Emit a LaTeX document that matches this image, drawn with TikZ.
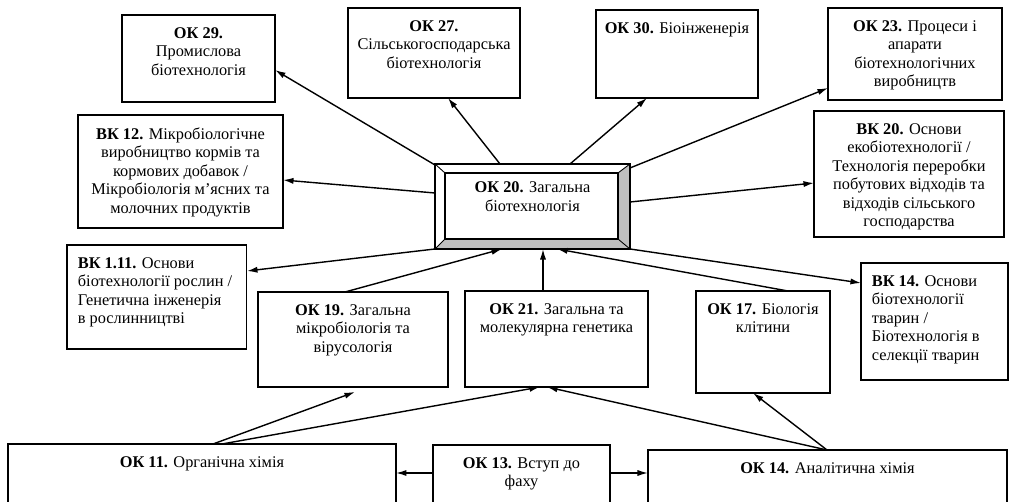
\documentclass[tikz,border=0pt]{standalone}
\usepackage{fontspec}
\setmainfont{Liberation Serif}
\usetikzlibrary{positioning,calc,arrows.meta}

\begin{document}
\begin{tikzpicture}[x = 0.02cm, y = -0.02cm]
\tikzstyle{BoxStyle} = [draw, line width = 1.4pt, inner sep = 0pt, outer sep = 0pt, anchor = north west]
\tikzstyle{ThinBoxStyle} = [draw, line width = 0.6pt, inner sep = 0pt, outer sep = 0pt, anchor = north west]
\tikzstyle{TextStyle} = [align = center, inner sep = 0pt, font = \fontsize{9.3}{10.5}\selectfont]
\tikzstyle{LeftTextStyle} = [align = left, inner sep = 0pt, font = \fontsize{9.3}{10.5}\selectfont]
\tikzstyle{EdgeStyle} = [line width = 0.8pt, -{Latex[length = 6pt, width = 3.5pt]}]
\tikzstyle{BevelStyle} = [fill = black!25]
\useasboundingbox (0,0) rectangle (1010,502);
\clip (0,0) rectangle (1010,502);
% boxes
\node[BoxStyle, minimum width = 3.06cm, minimum height = 1.74cm] (ok29) at (122,15) {};
\node[BoxStyle, minimum width = 3.44cm, minimum height = 1.80cm] (ok27) at (348,8) {};
\node[BoxStyle, minimum width = 3.24cm, minimum height = 1.76cm] (ok30) at (596,10) {};
\node[BoxStyle, minimum width = 3.48cm, minimum height = 1.84cm] (ok23) at (828,8) {};
\node[BoxStyle, minimum width = 4.10cm, minimum height = 2.26cm] (bk12) at (78,115) {};
\node[BoxStyle, minimum width = 3.80cm, minimum height = 2.52cm] (bk20) at (814,111) {};
\node[ThinBoxStyle, minimum width = 3.60cm, minimum height = 2.08cm] (bk111) at (67,245) {};
\node[BoxStyle, minimum width = 3.80cm, minimum height = 1.90cm] (ok19) at (258,292) {};
\node[BoxStyle, minimum width = 3.66cm, minimum height = 1.92cm] (ok21) at (465,291) {};
\node[BoxStyle, minimum width = 2.68cm, minimum height = 2.04cm] (ok17) at (696,291) {};
\node[ThinBoxStyle, minimum width = 2.94cm, minimum height = 2.34cm] (bk14) at (861,263) {};
\node[BoxStyle, minimum width = 7.76cm, minimum height = 1.40cm] (ok11) at (8,444) {};
\node[BoxStyle, minimum width = 3.54cm, minimum height = 1.40cm] (ok13) at (433,445) {};
\node[BoxStyle, minimum width = 7.18cm, minimum height = 1.40cm] (ok14) at (648,450) {};
% bevelled box
\node[BoxStyle, draw = none, minimum width = 3.90cm, minimum height = 1.70cm] (ok20) at (435,164) {};
\coordinate (in1) at ($(ok20.north west)+(10,9)$);
\coordinate (in2) at ($(ok20.north east)+(-12,9)$);
\coordinate (in3) at ($(ok20.south east)+(-12,-10)$);
\coordinate (in4) at ($(ok20.south west)+(10,-10)$);
\fill[BevelStyle] (ok20.north east) -- (ok20.south east) -- (ok20.south west) -- (in4) -- (in3) -- (in2) -- cycle;
\draw[line width = 0.8pt] (ok20.north west) rectangle (ok20.south east);
\draw[line width = 0.9pt] (in1) rectangle (in3);
\draw[line width = 0.5pt] (ok20.north west) -- (in1) (ok20.north east) -- (in2) (ok20.south east) -- (in3) (ok20.south west) -- (in4);
% texts
\node[TextStyle, below = 7pt of ok29.north] (t29) {\textbf{ОК 29.}\\ Промислова\\ біотехнологія};
\node[TextStyle, below = 7pt of ok27.north] (t27) {\textbf{ОК 27.}\\ Сільськогосподарська\\ біотехнологія};
\node[TextStyle, below = 7pt of ok30.north] (t30) {\textbf{ОК 30.} Біоінженерія};
\node[TextStyle, below = 7pt of ok23.north] (t23) {\textbf{ОК 23.} Процеси і\\ апарати\\ біотехнологічних\\ виробництв};
\node[TextStyle, below = 7pt of bk12.north] (t12) {\textbf{ВК 12.} Мікробіологічне\\ виробництво кормів та\\ кормових добавок /\\ Мікробіологія м’ясних та\\ молочних продуктів};
\node[TextStyle, below = 7pt of bk20.north] (t20b) {\textbf{ВК 20.} Основи\\ екобіотехнології /\\ Технологія переробки\\ побутових відходів та\\ відходів сільського\\ господарства};
\node[TextStyle, below = 10pt of ok20.north] (t20) {\textbf{ОК 20.} Загальна\\ біотехнологія};
\node[LeftTextStyle, below right = 7pt and 6pt of bk111.north west] (t111) {\textbf{ВК 1.11.} Основи\\ біотехнології рослин /\\ Генетична інженерія\\ в рослинництві};
\node[TextStyle, below = 7pt of ok19.north] (t19) {\textbf{ОК 19.} Загальна\\ мікробіологія та\\ вірусологія};
\node[TextStyle, below = 7pt of ok21.north] (t21) {\textbf{ОК 21.} Загальна та\\ молекулярна генетика};
\node[TextStyle, below = 7pt of ok17.north] (t17) {\textbf{ОК 17.} Біологія\\ клітини};
\node[LeftTextStyle, below right = 7pt and 6pt of bk14.north west] (t14b) {\textbf{ВК 14.} Основи\\ біотехнології\\ тварин /\\ Біотехнологія в\\ селекції тварин};
\node[TextStyle, below = 7pt of ok11.north] (t11) {\textbf{ОК 11.} Органічна хімія};
\node[TextStyle, below = 7pt of ok13.north] (t13) {\textbf{ОК 13.} Вступ до\\ фаху};
\node[TextStyle, below = 7pt of ok14.north] (t14) {\textbf{ОК 14.} Аналітична хімія};
% arrows
\draw[EdgeStyle] ($(ok20.north west)+(0,1)$) -- ($(ok29.north east)+(0,55)$);
\draw[EdgeStyle] ($(ok20.north west)+(65,0)$) -- ($(ok27.south west)+(100,0)$);
\draw[EdgeStyle] ($(ok20.north west)+(135,0)$) -- ($(ok30.south west)+(51,0)$);
\draw[EdgeStyle] ($(ok20.north east)+(0,4)$) -- ($(ok23.north west)+(0,80)$);
\draw[EdgeStyle] ($(ok20.north east)+(0,38)$) -- ($(bk20.north west)+(0,72)$);
\draw[EdgeStyle] ($(ok20.north west)+(0,29)$) -- ($(bk12.north east)+(0,65)$);
\draw[EdgeStyle] (ok20.south west) -- ($(bk111.north east)+(0,26)$);
\draw[EdgeStyle] (ok20.south east) -- ($(bk14.north west)+(0,20)$);
\draw[EdgeStyle] ($(ok19.north west)+(87,0)$) -- ($(ok20.south west)+(67,0)$);
\draw[EdgeStyle] ($(ok21.north west)+(78,0)$) -- ($(ok20.south west)+(108,0)$);
\draw[EdgeStyle] ($(ok17.north west)+(92,0)$) -- ($(ok20.south west)+(122,0)$);
\draw[EdgeStyle] ($(ok11.north west)+(205,0)$) -- ($(ok19.south west)+(97,5)$);
\draw[EdgeStyle] ($(ok11.north west)+(214,0)$) -- ($(ok21.south west)+(75,0)$);
\draw[EdgeStyle] ($(ok14.north west)+(179,0)$) -- ($(ok21.south west)+(82,0)$);
\draw[EdgeStyle] ($(ok14.north west)+(179,0)$) -- ($(ok17.south west)+(57,0)$);
\draw[EdgeStyle] ($(ok13.north west)+(0,28)$) -- ($(ok11.north east)+(0,29)$);
\draw[EdgeStyle] ($(ok13.north east)+(0,28)$) -- ($(ok14.north west)+(0,23)$);
\end{tikzpicture}
\end{document}
